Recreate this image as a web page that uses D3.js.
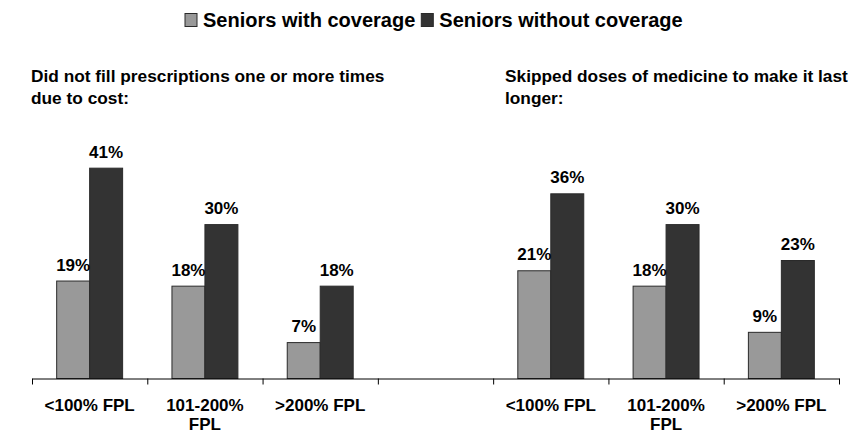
<!DOCTYPE html>
<html>
<head>
<meta charset="utf-8">
<script src="https://cdn.jsdelivr.net/npm/d3@7"></script>
<style>
  html, body { margin: 0; padding: 0; background: #ffffff; }
  svg { display: block; font-family: Arial, "Liberation Sans", sans-serif; font-weight: bold; }
</style>
</head>
<body>
<svg id="chart" width="850" height="434"></svg>
<script>
// Income groups (federal poverty level) shown in each panel
const fplGroups = ["<100% FPL", "101-200% FPL", ">200% FPL"];
const fplLabelLines = [["<100% FPL"], ["101-200%", "FPL"], [">200% FPL"]];

// Panel headings
const panelTitles = [
  ["Did not fill prescriptions one or more times", "due to cost:"],
  ["Skipped doses of medicine to make it last", "longer:"]
];

// Series
const seriesNames = ["Seniors with coverage", "Seniors without coverage"];
const seriesColors = ["#999999", "#333333"];

// Percent of seniors, by income group
const notFilledWithCoverage = [19, 18, 7];
const notFilledWithoutCoverage = [41, 30, 18];
const skippedWithCoverage = [21, 18, 9];
const skippedWithoutCoverage = [36, 30, 23];

const panelValues = [
  [notFilledWithCoverage, notFilledWithoutCoverage],
  [skippedWithCoverage, skippedWithoutCoverage]
];

const svg = d3.select("#chart");

// Seven slots along the axis: three groups, one empty gap, three groups
const slotCount = 7;
const axisLeft = 32, axisRight = 839, baseline = 378.5;

const slot = d3.scaleBand()
  .domain(d3.range(slotCount))
  .range([axisLeft, axisRight])
  .padding(0);

const inner = d3.scaleBand()
  .domain(seriesNames)
  .range([slot.bandwidth() * 0.214, slot.bandwidth() * 0.786])
  .padding(0);

const y = d3.scaleLinear()
  .domain([0, 45])
  .range([baseline, baseline - 45 * 5.13]);

const color = d3.scaleOrdinal().domain(seriesNames).range(seriesColors);

// Flatten into bar records
const bars = [];
panelValues.forEach((series, p) => {
  fplGroups.forEach((g, i) => {
    series.forEach((vals, s) => {
      bars.push({ slot: p * 4 + i, series: seriesNames[s], value: vals[i] });
    });
  });
});

// Bars
svg.append("g")
  .selectAll("rect")
  .data(bars)
  .join("rect")
  .attr("x", d => slot(d.slot) + inner(d.series))
  .attr("y", d => y(d.value))
  .attr("width", inner.bandwidth())
  .attr("height", d => y(0) - y(d.value))
  .attr("fill", d => color(d.series))
  .attr("stroke", "#2a2a2a")
  .attr("stroke-width", 1);

// Value labels
svg.append("g")
  .selectAll("text")
  .data(bars)
  .join("text")
  .attr("x", d => slot(d.slot) + inner(d.series) + inner.bandwidth() / 2)
  .attr("y", d => y(d.value) - 10.5)
  .attr("text-anchor", "middle")
  .attr("font-size", 17)
  .attr("fill", "#000")
  .text(d => d.value + "%");

// Axis with ticks at slot boundaries
const edges = d3.scaleLinear().domain([0, slotCount]).range([axisLeft, axisRight]);
const axis = svg.append("g")
  .attr("transform", `translate(0,${baseline})`)
  .call(d3.axisBottom(edges)
    .tickValues(d3.range(slotCount + 1))
    .tickSize(6)
    .tickSizeOuter(0)
    .tickFormat(""));
axis.selectAll("path, line").attr("stroke", "#000").attr("stroke-width", 1);

// Category labels under each group
const catLabels = [];
[0, 1].forEach(p => fplGroups.forEach((g, i) => catLabels.push({ slot: p * 4 + i, lines: fplLabelLines[i] })));

const cat = svg.append("g")
  .selectAll("text")
  .data(catLabels)
  .join("text")
  .attr("text-anchor", "middle")
  .attr("font-size", 17)
  .attr("fill", "#000");
cat.selectAll("tspan")
  .data(d => d.lines.map((l, k) => ({ l, k, x: slot(d.slot) + slot.bandwidth() / 2 })))
  .join("tspan")
  .attr("x", t => t.x)
  .attr("y", t => 410.5 + t.k * 19.5)
  .text(t => t.l);

// Panel headings
const titleX = [31, 505];
panelTitles.forEach((lines, p) => {
  const t = svg.append("text")
    .attr("font-size", 17.3)
    .attr("fill", "#000");
  lines.forEach((l, k) => {
    t.append("tspan").attr("x", titleX[p]).attr("y", 81.5 + k * 22.5).text(l);
  });
});

// Legend, centred across the top
const legend = svg.append("g");
let lx = 0;
seriesNames.forEach((name, s) => {
  legend.append("rect")
    .attr("x", lx).attr("y", 13.5)
    .attr("width", 12).attr("height", 13)
    .attr("fill", seriesColors[s])
    .attr("stroke", "#2a2a2a").attr("stroke-width", 1);
  const txt = legend.append("text")
    .attr("x", lx + 18).attr("y", 27)
    .attr("font-size", 20)
    .attr("fill", "#000")
    .text(name);
  lx += 18 + txt.node().getComputedTextLength() + 6;
});
legend.attr("transform", `translate(${Math.round(434 - (lx - 6) / 2)},0)`);
</script>
</body>
</html>
